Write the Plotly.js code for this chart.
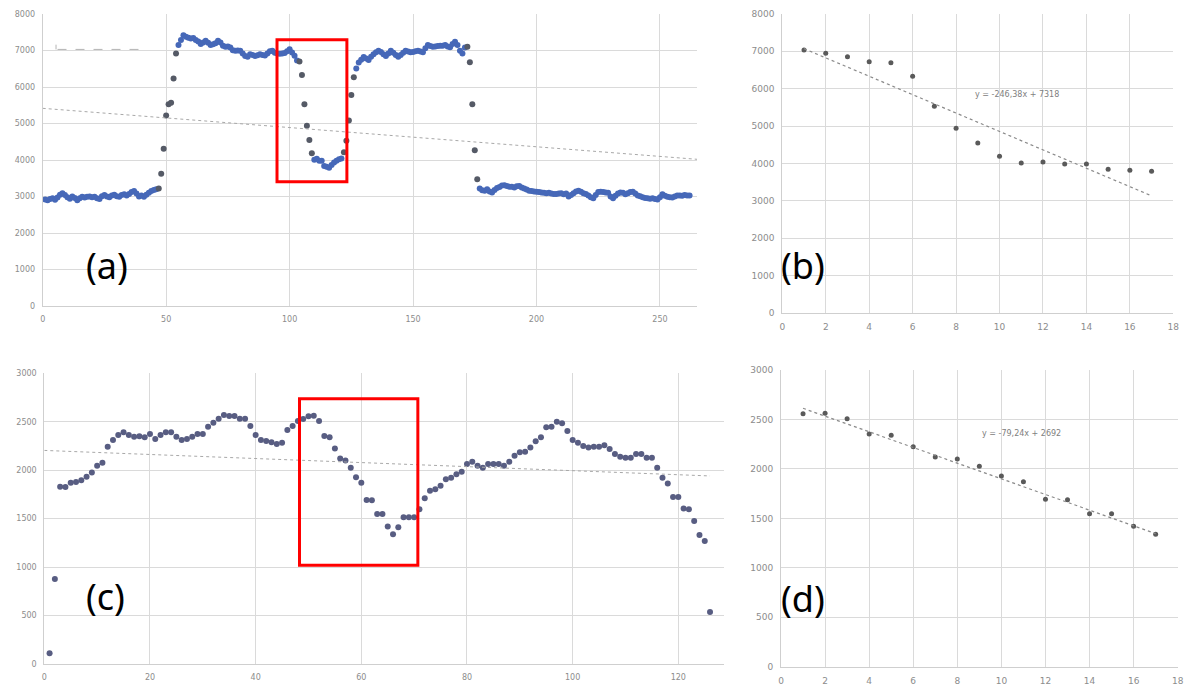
<!DOCTYPE html>
<html><head><meta charset="utf-8">
<script src="https://cdn.plot.ly/plotly-3.0.1.min.js"></script>
<style>html,body{margin:0;padding:0;background:#fff}#chart{width:1187px;height:684px}</style>
</head><body><div id="chart"></div>
<script>
// ---- Data ----
const aY = [
2920,2900,2930,2950,2910,2970,3050,3090,3040,2980,
2940,3000,2960,2900,2950,2990,2970,2990,3000,2980,
2990,2950,2930,3010,3040,3000,2980,3030,3050,3010,
2990,3040,3060,3030,3070,3120,3150,3080,3000,3030,
2990,3050,3100,3150,3180,3200,3220,3620,4310,5220,
5530,5570,6230,6920,7150,7290,7420,7380,7350,7330,
7340,7290,7250,7180,7220,7270,7210,7150,7170,7200,
7270,7220,7130,7100,7110,7080,7010,6990,7000,6990,
6920,6850,6830,6900,6880,6850,6870,6900,6880,6860,
6920,6980,6990,6940,6920,6910,6920,6930,6980,7036,
6946,6857,6723,6696,6330,5527,4937,4545,4187,4009,
4036,3982,3982,3839,3812,3786,3860,3930,3980,4020,
4040,4210,4530,5080,5780,6270,6510,6670,6750,6820,
6780,6740,6830,6900,6950,6990,6960,6900,6850,6920,
6990,6940,6880,6830,6880,6940,6990,6970,6950,6960,
6980,6990,6970,6950,7060,7150,7120,7100,7110,7120,
7130,7130,7150,7110,7090,7180,7240,7150,6990,6920,
7080,7100,6680,5530,4270,3470,3220,3170,3160,3200,
3140,3110,3180,3230,3260,3300,3310,3290,3270,3270,
3250,3280,3290,3250,3220,3190,3160,3150,3140,3130,
3120,3110,3100,3090,3100,3080,3070,3070,3080,3090,
3060,3080,3000,3040,3090,3140,3160,3130,3090,3070,
3030,2980,2950,3040,3120,3130,3120,3110,3100,3000,
2950,3020,3080,3110,3100,3060,3090,3120,3130,3080,
3030,3010,2980,2960,2950,2940,2950,2930,2920,2980,
3060,3020,2990,2980,2970,3000,3030,3030,3020,3040,3030,3030
];
const bY = [7036,6946,6857,6723,6696,6330,5527,4937,4545,4187,4009,4036,3982,3982,3839,3812,3786];
const cY = [
110,877,1830,1827,1871,1878,1895,1933,1975,2047,
2078,2243,2312,2363,2391,2363,2346,2350,2339,2374,
2322,2363,2391,2391,2346,2312,2322,2346,2374,2374,
2449,2490,2532,2570,2559,2559,2532,2532,2456,2363,
2312,2301,2288,2270,2284,2415,2456,2508,2528,2558,
2562,2508,2353,2339,2225,2120,2100,2026,1928,1871,
1692,1689,1547,1547,1419,1338,1410,1514,1514,1514,
1596,1710,1789,1803,1840,1906,1923,1957,1985,2064,
2088,2047,2026,2064,2064,2064,2047,2088,2150,2184,
2191,2233,2298,2339,2442,2449,2501,2484,2405,2312,
2284,2250,2233,2243,2243,2257,2219,2167,2140,2129,
2129,2167,2167,2129,2129,2026,1923,1864,1723,1723,
1606,1596,1476,1331,1269,537
];
const dY = [2558,2562,2508,2353,2339,2225,2120,2100,2026,1928,1871,1692,1689,1547,1547,1419,1338];

// trend line coefficients [slope, intercept]
const aTrend = [-5.27, 5416];
const bTrend = [-246.38, 7318];
const cTrend = [-2.09, 2204];
const dTrend = [-79.24, 2692];
const bEquation = "y = -246,38x + 7318";
const dEquation = "y = -79,24x + 2692";
const panelLabels = ["(a)", "(b)", "(c)", "(d)"];

// ---- Build ----
const idx = arr => arr.map((_, i) => i + 1);
const line = (t, x0, x1) => ({x: [x0, x1], y: [t[0]*x0 + t[1], t[0]*x1 + t[1]]});

const aColors = aY.map((v, i) => {
  const p = i > 0 ? Math.abs(v - aY[i-1]) : 0;
  const n = i < aY.length - 1 ? Math.abs(aY[i+1] - v) : 0;
  return Math.max(p, n) > 250 ? '#555a66' : '#4668b8';
});

const aT = line(aTrend, 0, 265), bT = line(bTrend, 1, 17), cT = line(cTrend, 0, 126), dT = line(dTrend, 1, 17);

const traces = [
  {x: idx(aY), y: aY, mode: 'markers', marker: {size: 6, color: aColors}, xaxis: 'x', yaxis: 'y'},
  {x: aT.x, y: aT.y, mode: 'lines', line: {color: '#a8a8a8', width: 1, dash: 'dot'}, xaxis: 'x', yaxis: 'y'},
  {x: idx(bY), y: bY, mode: 'markers', marker: {size: 5, color: '#5a5a5a'}, xaxis: 'x2', yaxis: 'y2'},
  {x: bT.x, y: bT.y, mode: 'lines', line: {color: '#8a8a8a', width: 1.2, dash: 'dot'}, xaxis: 'x2', yaxis: 'y2'},
  {x: idx(cY), y: cY, mode: 'markers', marker: {size: 6, color: '#585d82'}, xaxis: 'x3', yaxis: 'y3'},
  {x: cT.x, y: cT.y, mode: 'lines', line: {color: '#a8a8a8', width: 1, dash: 'dot'}, xaxis: 'x3', yaxis: 'y3'},
  {x: idx(dY), y: dY, mode: 'markers', marker: {size: 5, color: '#5a5a5a'}, xaxis: 'x4', yaxis: 'y4'},
  {x: dT.x, y: dT.y, mode: 'lines', line: {color: '#8a8a8a', width: 1.2, dash: 'dot'}, xaxis: 'x4', yaxis: 'y4'}
];

const W = 1187, H = 684;
const tf = (s) => ({family: 'DejaVu Sans', size: s, color: '#8c8c8c'});
const ax = (o) => Object.assign({
  showgrid: true, gridcolor: '#dadada', gridwidth: 1, zeroline: false,
  showline: true, linecolor: '#cfcfcf', linewidth: 1, ticks: '',
  ticklabelstandoff: 5, fixedrange: true
}, o);

const layout = {
  width: W, height: H, margin: {l: 0, r: 0, t: 0, b: 0},
  paper_bgcolor: '#fff', plot_bgcolor: '#fff', showlegend: false, hovermode: false,
  xaxis:  ax({domain: [42.7/W, 697/W], range: [0, 265], tick0: 0, dtick: 50, anchor: 'y', tickfont: tf(8)}),
  yaxis:  ax({domain: [1-306/H, 1-14/H], range: [0, 8000], dtick: 1000, anchor: 'x', tickfont: tf(8)}),
  xaxis2: ax({domain: [782.3/W, 1173.3/W], range: [0, 18], dtick: 2, anchor: 'y2', tickfont: tf(9)}),
  yaxis2: ax({domain: [1-312.7/H, 1-14/H], range: [0, 8000], dtick: 1000, anchor: 'x2', tickfont: tf(9)}),
  xaxis3: ax({domain: [44.3/W, 724.3/W], range: [0, 128.7], dtick: 20, anchor: 'y3', tickfont: tf(8)}),
  yaxis3: ax({domain: [1-664/H, 1-373.3/H], range: [0, 3000], dtick: 500, anchor: 'x3', tickfont: tf(8)}),
  xaxis4: ax({domain: [781/W, 1177.7/W], range: [0, 18], dtick: 2, anchor: 'y4', tickfont: tf(9)}),
  yaxis4: ax({domain: [1-666.7/H, 1-370/H], range: [0, 3000], dtick: 500, anchor: 'x4', tickfont: tf(9)}),
  shapes: [
    {type: 'rect', xref: 'x', yref: 'y', x0: 94.9, x1: 123.2, y0: 3405, y1: 7296, line: {color: '#ff0000', width: 3}},
    {type: 'rect', xref: 'x3', yref: 'y3', x0: 48.3, x1: 70.7, y0: 1018, y1: 2738, line: {color: '#ff0000', width: 3}},
    {type: 'line', xref: 'x', yref: 'y', x0: 6, x1: 39, y0: 7030, y1: 7030, line: {color: '#b4b4b4', width: 1, dash: 'dash'}},
    {type: 'line', xref: 'x', yref: 'y', x0: 5.4, x1: 5.4, y0: 7030, y1: 7160, line: {color: '#b4b4b4', width: 1}}
  ],
  annotations: [
    {xref: 'paper', yref: 'paper', x: 84/W, y: 1-265/H, text: panelLabels[0], showarrow: false, font: {family: 'Noto Sans', size: 36, color: '#000'}},
    {xref: 'paper', yref: 'paper', x: 827/W, y: 1-265/H, text: panelLabels[1], showarrow: false, font: {family: 'Noto Sans', size: 36, color: '#000'}},
    {xref: 'paper', yref: 'paper', x: 84/W, y: 1-623/H, text: panelLabels[2], showarrow: false, font: {family: 'Noto Sans', size: 36, color: '#000'}},
    {xref: 'paper', yref: 'paper', x: 827/W, y: 1-625/H, text: panelLabels[3], showarrow: false, font: {family: 'Noto Sans', size: 36, color: '#000'}},
    {xref: 'x2', yref: 'y2', x: 10.8, y: 5831, text: bEquation, showarrow: false, font: {family: 'DejaVu Sans', size: 8, color: '#808080'}},
    {xref: 'x4', yref: 'y4', x: 10.9, y: 2360, text: dEquation, showarrow: false, font: {family: 'DejaVu Sans', size: 8, color: '#808080'}}
  ]
};

Plotly.newPlot('chart', traces, layout, {displayModeBar: false, staticPlot: true});
</script></body></html>
